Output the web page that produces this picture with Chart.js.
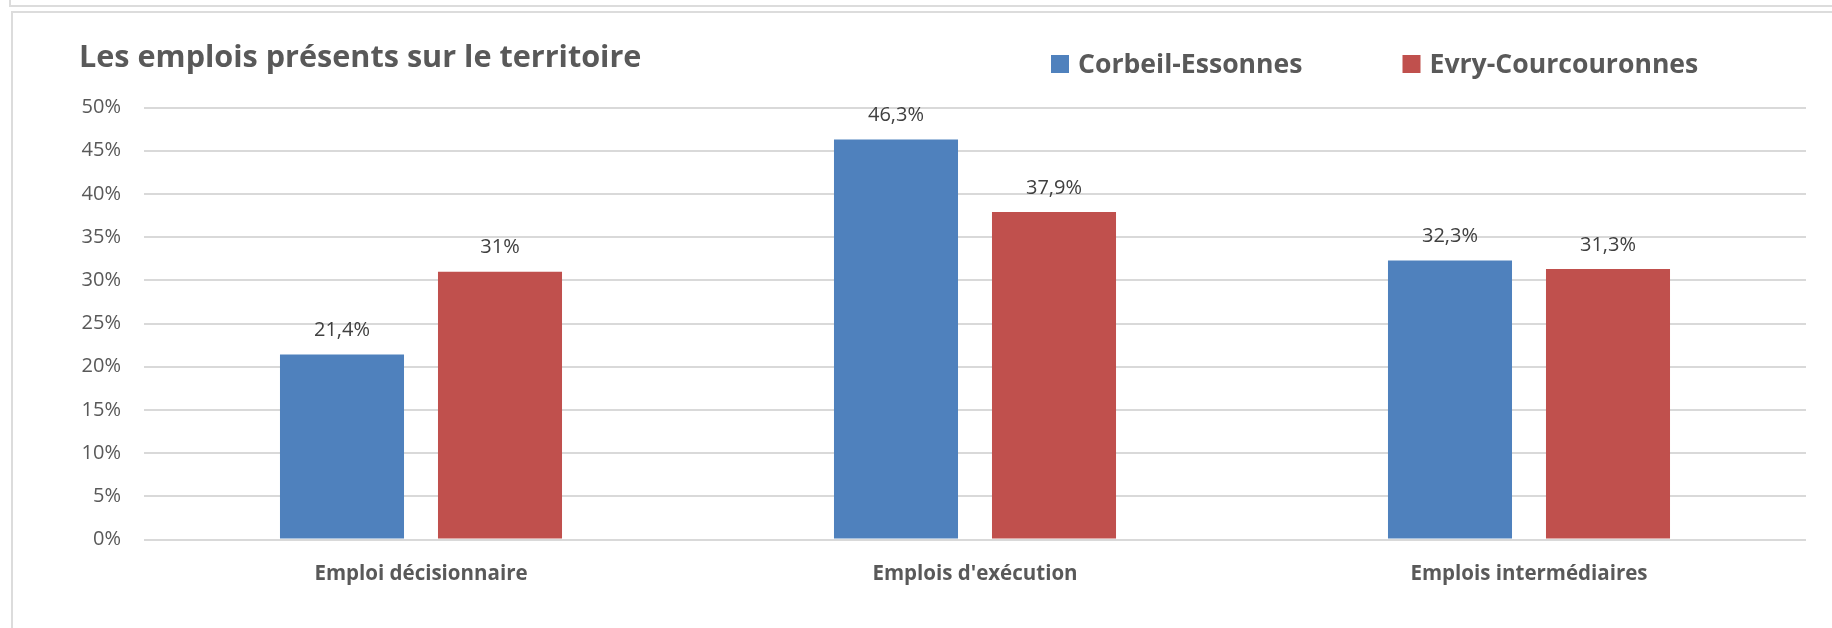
<!DOCTYPE html>
<html lang="fr">
<head>
<meta charset="utf-8">
<title>Les emplois présents sur le territoire</title>
<script src="https://cdn.jsdelivr.net/npm/chart.js@4.4.1/dist/chart.umd.min.js"></script>
<style>
    html, body { margin: 0; padding: 0; background: #fff; }
    .page { position: relative; width: 1832px; height: 628px; overflow: hidden; }
    .frame-top { position: absolute; left: 9px; top: -10px; width: 1840px; height: 13px; border: 2px solid #dcdcdc; }
    .frame-chart { position: absolute; left: 11px; top: 11px; width: 1840px; height: 640px; border-left: 2px solid #dcdcdc; border-top: 2px solid #dcdcdc; }
    canvas { position: absolute; left: 0; top: 0; }
</style>
</head>
<body>
<div class="page">
    <div class="frame-top"></div>
    <div class="frame-chart"></div>
    <canvas id="emploisChart" width="1832" height="628"></canvas>
</div>
<script>
const TITLE = 'Les emplois présents sur le territoire';
const CATEGORIES = ['Emploi décisionnaire', "Emplois d'exécution", 'Emplois intermédiaires'];
const CORBEIL = [21.4, 46.3, 32.3];
const EVRY = [31, 37.9, 31.3];
const Y_TICKS = [0, 5, 10, 15, 20, 25, 30, 35, 40, 45, 50];

const FONT = '"Open Sans", "Noto Sans", sans-serif';
const TEXT = '#595959';

function frenchPercent(v) {
    return String(v).replace('.', ',') + '%';
}

// title + legend on the same row, like the office chart
const headerPlugin = {
    id: 'header',
    afterDraw(chart) {
        const ctx = chart.ctx;
        ctx.save();
        ctx.fillStyle = TEXT;
        ctx.textBaseline = 'alphabetic';
        ctx.textAlign = 'left';
        ctx.font = `bold 30.6px ${FONT}`;
        ctx.fillText(TITLE, 79, 67);

        ctx.font = `bold 26.6px ${FONT}`;
        let x = 1051;
        chart.data.datasets.forEach((ds) => {
            ctx.fillStyle = ds.backgroundColor;
            ctx.fillRect(x, 55, 18, 18);
            ctx.fillStyle = TEXT;
            ctx.fillText(ds.label, x + 27, 73);
            x += 27 + ctx.measureText(ds.label).width + 100;
        });
        ctx.restore();
    },
};

const valueLabels = {
    id: 'valueLabels',
    afterDatasetsDraw(chart) {
        const ctx = chart.ctx;
        ctx.save();
        ctx.font = `20px ${FONT}`;
        ctx.fillStyle = '#404040';
        ctx.textAlign = 'center';
        ctx.textBaseline = 'alphabetic';
        chart.data.datasets.forEach((ds, i) => {
            chart.getDatasetMeta(i).data.forEach((bar, j) => {
                ctx.fillText(frenchPercent(ds.data[j]), bar.x, bar.y - 18.5);
            });
        });
        ctx.restore();
    },
};

new Chart(document.getElementById('emploisChart'), {
    type: 'bar',
    data: {
        labels: CATEGORIES,
        datasets: [
            { label: 'Corbeil-Essonnes', data: CORBEIL, backgroundColor: '#4f81bd' },
            { label: 'Evry-Courcouronnes', data: EVRY, backgroundColor: '#c0504d' },
        ],
    },
    options: {
        responsive: false,
        animation: false,
        datasets: { bar: { categoryPercentage: 0.5704, barPercentage: 0.785 } },
        layout: { padding: { top: 107.5, right: 26, bottom: 0, left: 0 } },
        plugins: {
            legend: { display: false },
            title: { display: false },
            tooltip: { enabled: false },
        },
        scales: {
            x: {
                grid: { display: false, drawTicks: false },
                border: { display: false },
                ticks: { color: TEXT, font: { family: FONT, size: 20.5, weight: 'bold' }, padding: 22 },
                afterFit: (s) => { s.height = 88.5; },
            },
            y: {
                min: 0,
                max: 50,
                afterBuildTicks: (s) => { s.ticks = Y_TICKS.map((v) => ({ value: v })); },
                grid: { color: '#d9d9d9', lineWidth: 2, drawTicks: false },
                border: { display: false },
                ticks: {
                    color: TEXT,
                    font: { family: FONT, size: 20 },
                    padding: 23,
                    callback: (v) => v + '%',
                },
                afterFit: (s) => { s.width = 144; },
            },
        },
    },
    plugins: [headerPlugin, valueLabels],
});
</script>
</body>
</html>
